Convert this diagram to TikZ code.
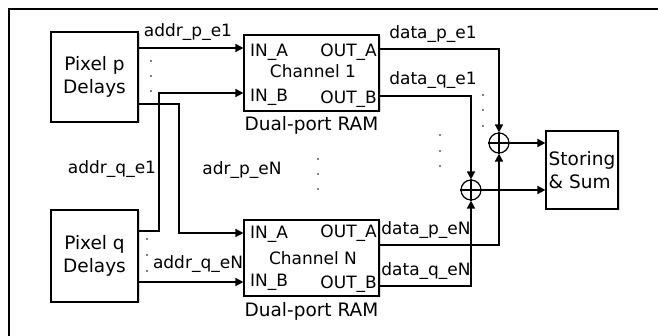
\documentclass[tikz,border=0pt]{standalone}
\usepackage{fontspec}
\setmainfont{DejaVu Sans}
\usetikzlibrary{arrows.meta,shadows}
\begin{document}
\begin{tikzpicture}[x=1pt,y=-1pt,
  box/.style={draw,line width=1.2pt,fill=white,align=center,inner sep=0pt,
    drop shadow={shadow xshift=1.5pt,shadow yshift=-1.5pt,fill=black!25,opacity=0.6},
    font=\fontsize{18.5}{22.5}\selectfont},
  conn/.style={line width=1.6pt,-{Triangle[length=8pt,width=8pt]}},
  plain/.style={line width=1.6pt},
  lbl/.style={inner sep=0pt,font=\fontsize{17}{20}\selectfont},
  big/.style={inner sep=0pt,font=\fontsize{18.5}{22}\selectfont},
  sumn/.style={circle,draw,line width=1.2pt,minimum size=20pt,inner sep=0pt},
  dot/.style={fill=black}
]
\useasboundingbox (0,0) rectangle (658,336);
% frame
\draw[line width=2.8pt] (9,340) -- (9,9) -- (662,9);

% boxes
\node[box,minimum width=87pt,minimum height=90pt] (pp) at (94.5,77) {Pixel p\\Delays};
\node[box,minimum width=87pt,minimum height=92pt] (pq) at (94.5,256) {Pixel q\\Delays};
\node[box,minimum width=135pt,minimum height=76pt] (ch1) at (311.5,73) {};
\node[box,minimum width=135pt,minimum height=76pt] (chN) at (311.5,258) {};
\node[box,minimum width=72pt,minimum height=78pt,align=left] (st) at (582,170) {Storing\\\& Sum};

% channel contents
\node[lbl,anchor=base west] (c1ia) at (250,57) {IN\_A};
\node[lbl,anchor=base east] (c1oa) at (377,57) {OUT\_A};
\node[lbl,anchor=base] (c1c) at (313,78) {Channel 1};
\node[lbl,anchor=base west] (c1ib) at (250,102) {IN\_B};
\node[lbl,anchor=base east] (c1ob) at (377,104) {OUT\_B};
\node[lbl,anchor=base west] (cNia) at (250,239) {IN\_A};
\node[lbl,anchor=base east] (cNoa) at (377,238) {OUT\_A};
\node[lbl,anchor=base] (cNc) at (313,265) {Channel N};
\node[lbl,anchor=base west] (cNib) at (250,287) {IN\_B};
\node[lbl,anchor=base east] (cNob) at (377,289) {OUT\_B};
\node[big,anchor=base] (ram1) at (311.5,130.5) {Dual-port RAM};
\node[big,anchor=base] (ramN) at (311.5,316.5) {Dual-port RAM};

% adders
\node[sumn] (s1) at (499,143) {};
\draw[line width=1.2pt] (s1.north) -- (s1.south) (s1.west) -- (s1.east);
\node[sumn] (s2) at (471,190) {};
\draw[line width=1.2pt] (s2.north) -- (s2.south) (s2.west) -- (s2.east);

% port coordinates
\coordinate (ia1) at (ch1.west |- 0,48);
\coordinate (ib1) at (ch1.west |- 0,93);
\coordinate (iaN) at (chN.west |- 0,233);
\coordinate (ibN) at (chN.west |- 0,282);

% inputs
\draw[conn] (pp.east |- ia1) -- (ia1);
\draw[conn] (pq.east |- 0,231) -| (159,93) -- (ib1);
\draw[conn] (pp.east |- 0,104) -| (179,233) -- (iaN);
\draw[conn] (pq.east |- ibN) -- (ibN);

% outputs
\draw[conn] (ch1.east |- 0,49) -| (s1.north);
\draw[conn] (ch1.east |- 0,96) -| (s2.north);
\draw[conn] (chN.east |- 0,245) -| (s1.south);
\draw[conn] (chN.east |- 0,286) -| (s2.south);
\draw[conn] (s1.east) -- (st.west |- s1);
\draw[conn] (s2.east) -- (st.west |- s2);

% labels
\node[lbl] (l1) at (188,32) {addr\_p\_e1};
\node[lbl] (l2) at (112,169) {addr\_q\_e1};
\node[lbl] (l3) at (242,170) {adr\_p\_eN};
\node[lbl] (l4) at (198,264) {addr\_q\_eN};
\node[lbl] (l5) at (433,34) {data\_p\_e1};
\node[lbl] (l6) at (433,80) {data\_q\_e1};
\node[lbl] (l7) at (426,230) {data\_p\_eN};
\node[lbl] (l8) at (426,271) {data\_q\_eN};

% dots
\foreach \x/\y in {151/61,151/76,151/91,147/239,147/255,147/271,
                   318/159,318/174,318/189,440/135,440/151,440/166,
                   483/95,483/110,483/126}
  \fill[dot] (\x,\y) circle (0.9pt);
\end{tikzpicture}
\end{document}
